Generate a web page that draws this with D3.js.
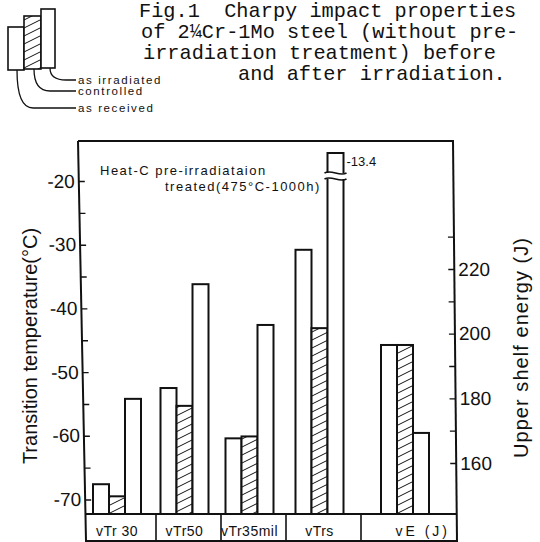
<!DOCTYPE html>
<html><head><meta charset="utf-8">
<script src="https://cdn.jsdelivr.net/npm/d3@7"></script>
<style>body{margin:0;background:#fff} svg{display:block}</style>
</head><body>
<svg id="c" width="540" height="542"></svg>
<script>
// ---------- data ----------
const categories = ["vTr30", "vTr50", "vTr35mil", "vTrs", "vE(J)"];
const categoryLabels = ["vTr 30", "vTr50", "vTr35mil", "vTrs", "vE (J)"];
const categoryAxis = ["T", "T", "T", "T", "E"];          // T = transition temp (left), E = energy (right)
const series = ["as received", "controlled", "as irradiated"];
const asReceived   = [-67.6, -52.5, -60.4, -30.8, 196.5];
const controlled   = [-69.5, -55.3, -60.1, -43.1, 196.5];
const asIrradiated = [-54.2, -36.2, -42.6, -13.4, 169.3];
const leftTicks  = [-20, -25, -30, -35, -40, -45, -50, -55, -60, -65, -70];
const leftLabels = [-20, -30, -40, -50, -60, -70];
const rightTicks  = [160, 170, 180, 190, 200, 210, 220, 230];
const rightLabels = [160, 180, 200, 220];
const titleLines = ["Fig.1  Charpy impact properties", "of 2\u00BCCr-1Mo steel (without pre-",
                    "irradiation treatment) before", "and after irradiation."];
const noteLines = ["Heat-C pre-irradiataion", "treated(475\u00B0C-1000h)"];
const leftTitle = "Transition temperature(\u00B0C)";
const rightTitle = "Upper shelf energy (J)";

// ---------- layout ----------
const svg = d3.select("#c");
const TOP = 141, BASE = 514, BOTTOM = 541;
const leftSlope = 0.02, rightSlope = 0.01;
const leftX = y => 78 + (y - TOP) * leftSlope;
const rightX = y => 453 + (y - TOP) * rightSlope;
const boxWeights = [70, 65, 65, 75, 96];
const cum = [0]; boxWeights.forEach(w => cum.push(cum[cum.length - 1] + w));
const bx = d3.scaleLinear().domain([0, cum[cum.length - 1]]).range([86, 457]);
const groupCenter = i => (bx(cum[i]) + bx(cum[i + 1])) / 2 - 4;
const inner = d3.scaleBand().domain(series).range([-24, 24]);

const yT = d3.scaleLinear().domain([-20, -70]).range([181, 499.5]);
const yE = d3.scaleLinear().domain([160, 220]).range([463, 269]);
const scaleFor = i => categoryAxis[i] === "T" ? yT : yE;
const CAP = TOP + 12;

const SANS = "'Liberation Sans', Arial, sans-serif";

// hatch pattern
const defs = svg.append("defs");
const pat = defs.append("pattern").attr("id", "hatch").attr("patternUnits", "userSpaceOnUse")
  .attr("width", 16).attr("height", 8);
pat.append("rect").attr("width", 16).attr("height", 8).attr("fill", "#fff");
pat.append("line").attr("x1", 0).attr("y1", 8).attr("x2", 16).attr("y2", 0)
  .attr("stroke", "#111").attr("stroke-width", 1);
pat.append("line").attr("x1", -2).attr("y1", 1).attr("x2", 2).attr("y2", -1)
  .attr("stroke", "#111").attr("stroke-width", 1);
pat.append("line").attr("x1", 14).attr("y1", 9).attr("x2", 18).attr("y2", 7)
  .attr("stroke", "#111").attr("stroke-width", 1);

// ---------- title ----------
const titleX = [139, 141, 143, 238];
const titleY = [17, 38, 59, 80];
svg.append("g").selectAll("text").data(titleLines).join("text")
  .attr("x", (d, i) => titleX[i]).attr("y", (d, i) => titleY[i])
  .attr("font-family", "'Liberation Mono', 'DejaVu Sans Mono', monospace")
  .attr("font-size", 20.3).attr("fill", "#111").attr("xml:space", "preserve")
  .text(d => d);

// ---------- legend ----------
const lg = svg.append("g");
const legRects = [
  {x: 8, y: 27, w: 16, h: 43, fill: "#fff"},
  {x: 24, y: 16, w: 17, h: 53, fill: "url(#hatch)"},
  {x: 41, y: 9, w: 14, h: 59, fill: "#fff"}
];
lg.selectAll("rect").data(legRects).join("rect")
  .attr("x", d => d.x).attr("y", d => d.y).attr("width", d => d.w).attr("height", d => d.h)
  .attr("fill", d => d.fill).attr("stroke", "#111").attr("stroke-width", 1.6);
const leaders = [
  {x0: 17, y0: 70, y: 108, label: series[0]},
  {x0: 34, y0: 69, y: 91, label: series[1]},
  {x0: 50, y0: 68, y: 80, label: series[2]}
];
lg.selectAll("path.lead").data(leaders).join("path").attr("class", "lead")
  .attr("d", d => `M${d.x0},${d.y0} Q${d.x0},${d.y} ${d.x0 + 16},${d.y} L76,${d.y}`)
  .attr("fill", "none").attr("stroke", "#111").attr("stroke-width", 1.3);
lg.selectAll("text").data(leaders).join("text")
  .attr("x", 78).attr("y", d => d.y + 4)
  .attr("font-family", SANS).attr("font-size", 11.5).attr("letter-spacing", 1.6)
  .attr("fill", "#111").text(d => d.label);

// ---------- frame ----------
const frame = svg.append("g").attr("stroke", "#111").attr("stroke-width", 2).attr("fill", "none");
frame.append("line").attr("x1", leftX(TOP)).attr("y1", TOP).attr("x2", rightX(TOP)).attr("y2", TOP);
frame.append("line").attr("x1", leftX(BASE)).attr("y1", BASE).attr("x2", rightX(BASE)).attr("y2", BASE);
frame.append("line").attr("x1", leftX(BOTTOM)).attr("y1", BOTTOM).attr("x2", rightX(BOTTOM)).attr("y2", BOTTOM);
cum.slice(1, -1).forEach(c => {
  frame.append("line").attr("x1", bx(c)).attr("x2", bx(c)).attr("y1", BASE).attr("y2", 542).attr("stroke-width", 1.6);
});

// left axis
const gL = svg.append("g")
  .attr("transform", `translate(${78 - TOP * leftSlope},0) skewX(${Math.atan(leftSlope) * 180 / Math.PI})`);
gL.call(d3.axisLeft(yT).tickValues(leftTicks).tickSizeInner(-6).tickSizeOuter(0).tickPadding(4)
  .tickFormat(d => leftLabels.includes(d) ? String(d) : ""));
gL.select(".domain").remove();
gL.selectAll(".tick line").attr("stroke", "#111").attr("stroke-width", 1.4);
gL.selectAll(".tick text").attr("font-family", SANS).attr("font-size", 19).attr("fill", "#111");
gL.append("line").attr("x1", 0).attr("x2", 0).attr("y1", TOP).attr("y2", 542)
  .attr("stroke", "#111").attr("stroke-width", 2);

// right axis
const gR = svg.append("g")
  .attr("transform", `translate(${453 - TOP * rightSlope},0) skewX(${Math.atan(rightSlope) * 180 / Math.PI})`);
gR.call(d3.axisRight(yE).tickValues(rightTicks).tickSizeInner(-6).tickSizeOuter(0).tickPadding(4)
  .tickFormat(d => rightLabels.includes(d) ? String(d) : ""));
gR.select(".domain").remove();
gR.selectAll(".tick line").attr("stroke", "#111").attr("stroke-width", 1.4);
gR.selectAll(".tick text").attr("font-family", SANS).attr("font-size", 19).attr("fill", "#111");
gR.append("line").attr("x1", 0).attr("x2", 0).attr("y1", TOP - 1).attr("y2", 542)
  .attr("stroke", "#111").attr("stroke-width", 2);

// axis titles
svg.append("text").attr("transform", `translate(37,346) rotate(-90)`)
  .attr("text-anchor", "middle").attr("font-family", SANS).attr("font-size", 20)
  .attr("fill", "#111").text(leftTitle);
svg.append("text").attr("transform", `translate(528,348) rotate(-90)`)
  .attr("text-anchor", "middle").attr("font-family", SANS).attr("font-size", 20)
  .attr("textLength", 220).attr("lengthAdjust", "spacing")
  .attr("fill", "#111").text(rightTitle);

// note
svg.append("g").selectAll("text").data(noteLines).join("text")
  .attr("x", (d, i) => i === 0 ? 100 : 165).attr("y", (d, i) => 175 + i * 16)
  .attr("font-family", SANS).attr("font-size", 13).attr("letter-spacing", 1.5)
  .attr("fill", "#111").text(d => d);

// ---------- bars ----------
const valuesBySeries = [asReceived, controlled, asIrradiated];
const rows = categories.flatMap((c, i) => series.map((s, j) => ({c, i, s, j, v: valuesBySeries[j][i]})));
const barG = svg.append("g");
barG.selectAll("rect").data(rows).join("rect")
  .attr("x", d => groupCenter(d.i) + inner(d.s))
  .attr("width", inner.bandwidth())
  .attr("y", d => Math.max(scaleFor(d.i)(d.v), CAP))
  .attr("height", d => BASE - Math.max(scaleFor(d.i)(d.v), CAP))
  .attr("fill", d => d.j === 1 ? "url(#hatch)" : "#fff")
  .attr("stroke", "#111").attr("stroke-width", 2);

// broken bars
const broken = rows.filter(d => scaleFor(d.i)(d.v) < CAP);
broken.forEach(d => {
  const x0 = groupCenter(d.i) + inner(d.s), w = inner.bandwidth();
  const yb = CAP + 20;
  barG.append("rect").attr("x", x0 - 3).attr("y", yb).attr("width", w + 6).attr("height", 6).attr("fill", "#fff");
  [yb, yb + 6].forEach(yy => {
    barG.append("path")
      .attr("d", `M${x0 - 3},${yy} C${x0 + 4},${yy - 4} ${x0 + w - 4},${yy + 4} ${x0 + w + 3},${yy}`)
      .attr("fill", "none").attr("stroke", "#111").attr("stroke-width", 1.5);
  });
  barG.append("text").attr("x", x0 + w + 3).attr("y", CAP + 13)
    .attr("font-family", SANS).attr("font-size", 13).attr("fill", "#111").text(String(d.v));
});

// category labels
svg.append("g").selectAll("text").data(categoryLabels).join("text")
  .attr("x", (d, i) => i === categoryLabels.length - 1 ? bx(cum[i + 1]) - 7 : groupCenter(i))
  .attr("y", 536)
  .attr("text-anchor", (d, i) => i === categoryLabels.length - 1 ? "end" : "middle")
  .attr("font-family", SANS).attr("font-size", 14)
  .attr("letter-spacing", (d, i) => i === categoryLabels.length - 1 ? 3 : 0.5)
  .attr("fill", "#111").text(d => d);
</script>
</body></html>
